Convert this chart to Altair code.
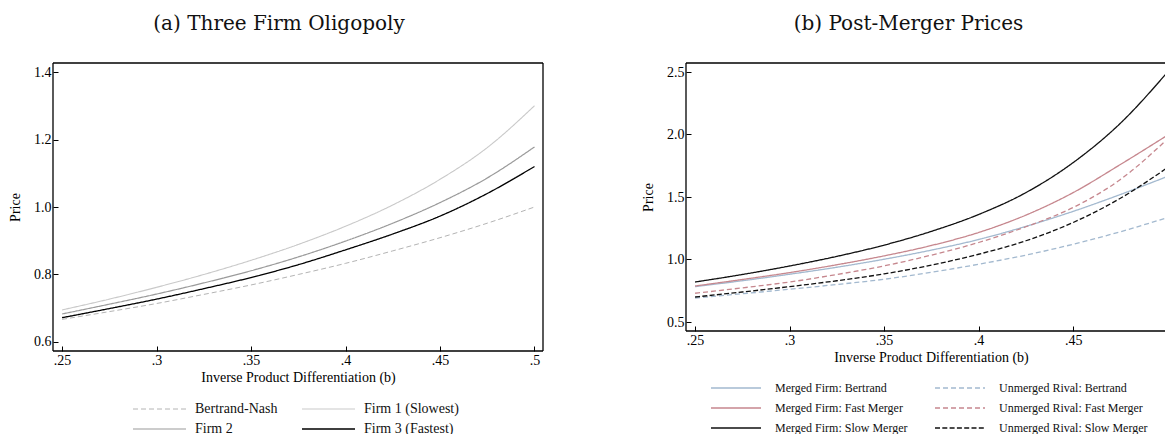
import altair as alt
import pandas as pd

# ---------------- data ----------------
b_grid = [0.25, 0.275, 0.3, 0.325, 0.35, 0.375, 0.4, 0.425, 0.45, 0.475, 0.5]

# Panel (a): Three Firm Oligopoly
a_series = ["Bertrand-Nash", "Firm 1 (Slowest)", "Firm 2", "Firm 3 (Fastest)"]
a_bertrand = [0.667, 0.690, 0.714, 0.741, 0.769, 0.800, 0.833, 0.870, 0.909, 0.952, 1.000]
a_firm1 = [0.695, 0.727, 0.762, 0.800, 0.842, 0.889, 0.943, 1.006, 1.082, 1.176, 1.300]
a_firm2 = [0.683, 0.712, 0.742, 0.775, 0.811, 0.852, 0.899, 0.952, 1.013, 1.086, 1.178]
a_firm3 = [0.672, 0.699, 0.727, 0.758, 0.791, 0.829, 0.873, 0.920, 0.973, 1.040, 1.120]

# Panel (b): Post-Merger Prices
b_series = [
    "Merged Firm: Bertrand", "Unmerged Rival: Bertrand",
    "Merged Firm: Fast Merger", "Unmerged Rival: Fast Merger",
    "Merged Firm: Slow Merger", "Unmerged Rival: Slow Merger",
]
b_merged_bertrand = [0.783, 0.830, 0.882, 0.938, 1.002, 1.075, 1.160, 1.265, 1.385, 1.520, 1.665]
b_rival_bertrand = [0.692, 0.726, 0.762, 0.800, 0.842, 0.898, 0.962, 1.035, 1.122, 1.222, 1.336]
b_merged_fast = [0.788, 0.840, 0.895, 0.958, 1.029, 1.112, 1.216, 1.355, 1.535, 1.760, 1.995]
b_rival_fast = [0.730, 0.773, 0.820, 0.880, 0.949, 1.035, 1.136, 1.262, 1.416, 1.640, 1.965]
b_merged_slow = [0.820, 0.880, 0.948, 1.025, 1.115, 1.225, 1.360, 1.535, 1.775, 2.090, 2.500]
b_rival_slow = [0.700, 0.740, 0.783, 0.830, 0.885, 0.955, 1.042, 1.150, 1.296, 1.490, 1.736]

x_ticks = [0.25, 0.3, 0.35, 0.4, 0.45, 0.5]
x_ticks_b = [0.25, 0.3, 0.35, 0.4, 0.45]
y_ticks_a = [0.6, 0.8, 1.0, 1.2, 1.4]
y_ticks_b = [0.5, 1.0, 1.5, 2.0, 2.5]


def long_frame(series_names, arrays):
    rows = []
    for name, vals in zip(series_names, arrays):
        for bx, p in zip(b_grid, vals):
            rows.append({"b": bx, "price": p, "series": name})
    return pd.DataFrame(rows)


df_a = long_frame(a_series, [a_bertrand, a_firm1, a_firm2, a_firm3])
df_b = long_frame(b_series, [b_merged_bertrand, b_rival_bertrand, b_merged_fast,
                             b_rival_fast, b_merged_slow, b_rival_slow])

# ---------------- styles ----------------
SERIF = "Liberation Serif"
TITLE_FONT = "DejaVu Serif"

a_colors = ["#b4b4b4", "#c9c9c9", "#9a9a9a", "#000000"]
a_dashes = [[5, 3], [1, 0], [1, 0], [1, 0]]
a_widths = [1.0, 1.3, 2.0, 2.2]

BLUE = "#a3b9cf"
RED = "#c6878e"
BLK = "#111111"
b_colors = [BLUE, BLUE, RED, RED, BLK, BLK]
b_dashes = [[1, 0], [5, 3], [1, 0], [5, 3], [1, 0], [5, 2.3]]
b_widths = [1.3, 1.3, 1.3, 1.3, 1.4, 1.6]

W_A, H_A = 490, 288
W_B, H_B = 479, 268

label_expr = "substring(format(datum.value, '.2~f'), 1)"


def legend_frame(series, x0, col_step, sym_len, gap, y0, row_step):
    """Legend layout (pixel offsets inside the panel), two columns, row-major."""
    rows = []
    for i, name in enumerate(series):
        c, r = i % 2, i // 2
        sx = x0 + c * col_step
        rows.append({"series": name, "sx": sx, "sx2": sx + sym_len,
                     "tx": sx + sym_len + gap, "ty": y0 + r * row_step})
    return pd.DataFrame(rows)


def frame_rules(w, h, open_right=False):
    base = alt.Chart(pd.DataFrame({"k": [0]}))
    rules = [
        base.mark_rule(color="black", strokeWidth=1.3).encode(
            x=alt.value(0), x2=alt.value(w), y=alt.value(0)),
        base.mark_rule(color="black", strokeWidth=1.3).encode(
            x=alt.value(0), x2=alt.value(w), y=alt.value(h)),
        base.mark_rule(color="black", strokeWidth=1.3).encode(
            x=alt.value(0), y=alt.value(0), y2=alt.value(h)),
    ]
    if not open_right:
        rules.append(base.mark_rule(color="black", strokeWidth=1.3).encode(
            x=alt.value(w), y=alt.value(0), y2=alt.value(h)))
    return rules


def panel(df, series, colors, dashes, widths, xdom, ydom, xt, yt, w, h, title, title_dx,
          leg_df, legend_font, open_right, xtitle_x):
    col = alt.Color("series:N", scale=alt.Scale(domain=series, range=colors), legend=None)
    dash = alt.StrokeDash("series:N", scale=alt.Scale(domain=series, range=dashes), legend=None)
    sw = alt.StrokeWidth("series:N", scale=alt.Scale(domain=series, range=widths), legend=None)

    lines = alt.Chart(df).mark_line(interpolate="monotone", clip=True).encode(
        x=alt.X("b:Q", scale=alt.Scale(domain=xdom, nice=False, zero=False),
                axis=alt.Axis(values=xt, labelExpr=label_expr, titleX=xtitle_x,
                              title="Inverse Product Differentiation (b)")),
        y=alt.Y("price:Q", scale=alt.Scale(domain=ydom, nice=False, zero=False),
                axis=alt.Axis(values=yt, format=".1f", title="Price")),
        color=col, strokeDash=dash, strokeWidth=sw,
    )
    leg_sym = alt.Chart(leg_df).mark_rule().encode(
        x=alt.X("sx:Q", scale=None, axis=None), x2="sx2:Q",
        y=alt.Y("ty:Q", scale=None, axis=None),
        color=col, strokeDash=dash, strokeWidth=sw,
    )
    leg_txt = alt.Chart(leg_df).mark_text(
        align="left", baseline="middle", font=SERIF, fontSize=legend_font, color="#111111"
    ).encode(
        x=alt.X("tx:Q", scale=None, axis=None),
        y=alt.Y("ty:Q", scale=None, axis=None),
        text="series:N",
    )
    return alt.layer(lines, leg_sym, leg_txt, *frame_rules(w, h, open_right)).properties(
        width=w, height=h,
        title=alt.TitleParams(title, font=TITLE_FONT, fontSize=20, fontWeight="normal",
                              anchor="middle", dx=title_dx, offset=28, color="#111111"),
    )


leg_a = legend_frame(a_series, 80, 169, 53, 9, 346, 20)
leg_b = legend_frame(b_series, 25, 224, 50, 14, 325, 20)

chart_a = panel(df_a, a_series, a_colors, a_dashes, a_widths,
                [0.2452, 0.5045], [0.5733, 1.4267], x_ticks, y_ticks_a, W_A, H_A,
                "(a) Three Firm Oligopoly", -19, leg_a, 14, False, 245)

chart_b = panel(df_b, b_series, b_colors, b_dashes, b_widths,
                [0.2452, 0.4986], [0.428, 2.572], x_ticks_b, y_ticks_b, W_B, H_B,
                "(b) Post-Merger Prices", -17, leg_b, 12, True, 245)

chart = alt.hconcat(chart_a, chart_b, spacing=143, bounds="flush").resolve_scale(
    x="independent", y="independent",
    color="independent", strokeDash="independent", strokeWidth="independent",
).properties(
    padding={"left": 8, "right": 0, "top": 14, "bottom": 0},
).configure(
    font=SERIF,
).configure_view(
    strokeWidth=0,
).configure_axis(
    domain=False, grid=False,
    tickColor="black", tickSize=5, tickWidth=1, offset=-5,
    labelFont=SERIF, labelFontSize=14, labelColor="black", labelPadding=2,
    titleFont=SERIF, titleFontSize=14, titleFontWeight="normal", titleColor="black",
).configure_axisX(
    titlePadding=3,
).configure_axisY(
    titlePadding=11, labelAngle=0,
)

chart.save("out.html", embed_options={"renderer": "svg", "actions": False})
